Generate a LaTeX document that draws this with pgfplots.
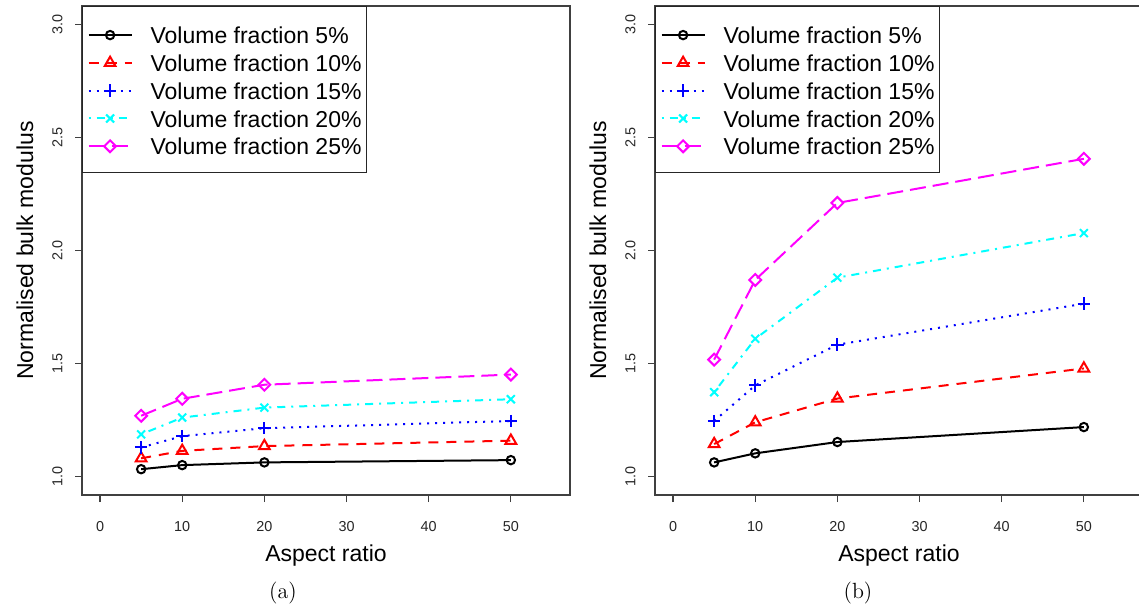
\documentclass[border=0pt]{standalone}
\usepackage{fontspec}
\newfontfamily\rfont{Liberation Sans}
\usepackage{pgfplots}
\pgfplotsset{compat=1.18}

\definecolor{rred}{RGB}{255,0,0}
\definecolor{rblue}{RGB}{0,0,255}
\definecolor{rcyan}{RGB}{0,255,255}
\definecolor{rmagenta}{RGB}{255,0,255}

\pgfplotsset{
  rpanel/.style={
    scale only axis, width=244pt, height=244.5pt, anchor=south west,
    xmin=-2.2, xmax=57.2, ymin=0.92, ymax=3.08,
    xtick={0,10,20,30,40,50}, xticklabels={0,10,20,30,40,50},
    ytick={1,1.5,2,2.5,3}, yticklabels={1.0,1.5,2.0,2.5,3.0},
    tick align=outside, tick pos=left, major tick length=3.5pt,
    axis line style={black!75, line width=0.6pt},
    every tick/.style={black!75, line width=0.6pt},
    ticklabel style={font=\rfont\fontsize{7.2}{8}\selectfont, text=black!85},
    xticklabel style={yshift=-6pt},
    yticklabel style={rotate=90, anchor=south, inner ysep=6pt},
    xlabel={Aspect ratio}, ylabel={Normalised bulk modulus},
    every axis x label/.style={at={(axis description cs:0.5,-0.1245)}, anchor=center,
      font=\rfont\fontsize{11.5}{13}\selectfont},
    every axis y label/.style={at={(axis description cs:-0.1168,0.5)}, rotate=90, anchor=center,
      font=\rfont\fontsize{11.5}{13}\selectfont},
    legend cell align=left,
    legend style={at={(0,1)}, anchor=north west, draw=black!85, line width=0.6pt,
      fill=white, font=\rfont\fontsize{11.5}{13}\selectfont,
      inner xsep=2.5pt, inner ysep=7.5pt, row sep=1.4pt, column sep=9pt,
      nodes={inner sep=0pt, text height=11.1pt, text depth=1.4pt}},
    legend image code/.code={\draw[mark repeat=2, mark phase=2, #1]
      plot coordinates {(0pt,-0.5pt) (10.75pt,-0.5pt) (21.5pt,-0.5pt)};},
  },
  s5/.style={black, line width=1pt, mark=o, mark size=2.1pt, mark options={solid}},
  s10/.style={rred, line width=1pt, dash pattern=on 5pt off 4pt, mark=triangle, mark size=3.1pt, mark options={solid}},
  s15/.style={rblue, line width=1pt, dash pattern=on 1pt off 3pt, mark=+, mark size=3.1pt, mark options={solid}},
  s20/.style={rcyan, line width=1pt, dash pattern=on 1pt off 3pt on 4pt off 3pt, mark=x, mark size=2.8pt, mark options={solid}},
  s25/.style={rmagenta, line width=1pt, dash pattern=on 8pt off 3.5pt, mark=square, mark size=2.1pt, mark options={solid, rotate=45}},
}

\begin{document}
\begin{tikzpicture}
\path[use as bounding box] (0,0) rectangle (569.5pt,305pt);
\clip (0,0) rectangle (569.5pt,305pt);

% (a)
\begin{axis}[rpanel, at={(41pt,57.5pt)}]
\addplot[s5] coordinates {(5,1.034) (10,1.052) (20,1.064) (50,1.074)};
\addlegendentry{Volume fraction 5\%}
\addplot[s10] coordinates {(5,1.082) (10,1.115) (20,1.136) (50,1.160)};
\addlegendentry{Volume fraction 10\%}
\addplot[s15] coordinates {(5,1.130) (10,1.180) (20,1.215) (50,1.247)};
\addlegendentry{Volume fraction 15\%}
\addplot[s20] coordinates {(5,1.188) (10,1.262) (20,1.306) (50,1.343)};
\addlegendentry{Volume fraction 20\%}
\addplot[s25] coordinates {(5,1.270) (10,1.345) (20,1.407) (50,1.452)};
\addlegendentry{Volume fraction 25\%}
\end{axis}

% (b)
\begin{axis}[rpanel, at={(327.5pt,57.5pt)}]
\addplot[s5] coordinates {(5,1.064) (10,1.104) (20,1.154) (50,1.220)};
\addlegendentry{Volume fraction 5\%}
\addplot[s10] coordinates {(5,1.145) (10,1.241) (20,1.346) (50,1.479)};
\addlegendentry{Volume fraction 10\%}
\addplot[s15] coordinates {(5,1.247) (10,1.404) (20,1.584) (50,1.765)};
\addlegendentry{Volume fraction 15\%}
\addplot[s20] coordinates {(5,1.374) (10,1.610) (20,1.880) (50,2.077)};
\addlegendentry{Volume fraction 20\%}
\addplot[s25] coordinates {(5,1.518) (10,1.870) (20,2.210) (50,2.405)};
\addlegendentry{Volume fraction 25\%}
\end{axis}

\node[font=\fontsize{11}{13}\selectfont] at (141.5pt,8.5pt) {(a)};
\node[font=\fontsize{11}{13}\selectfont] at (429pt,8.5pt) {(b)};
\end{tikzpicture}
\end{document}
